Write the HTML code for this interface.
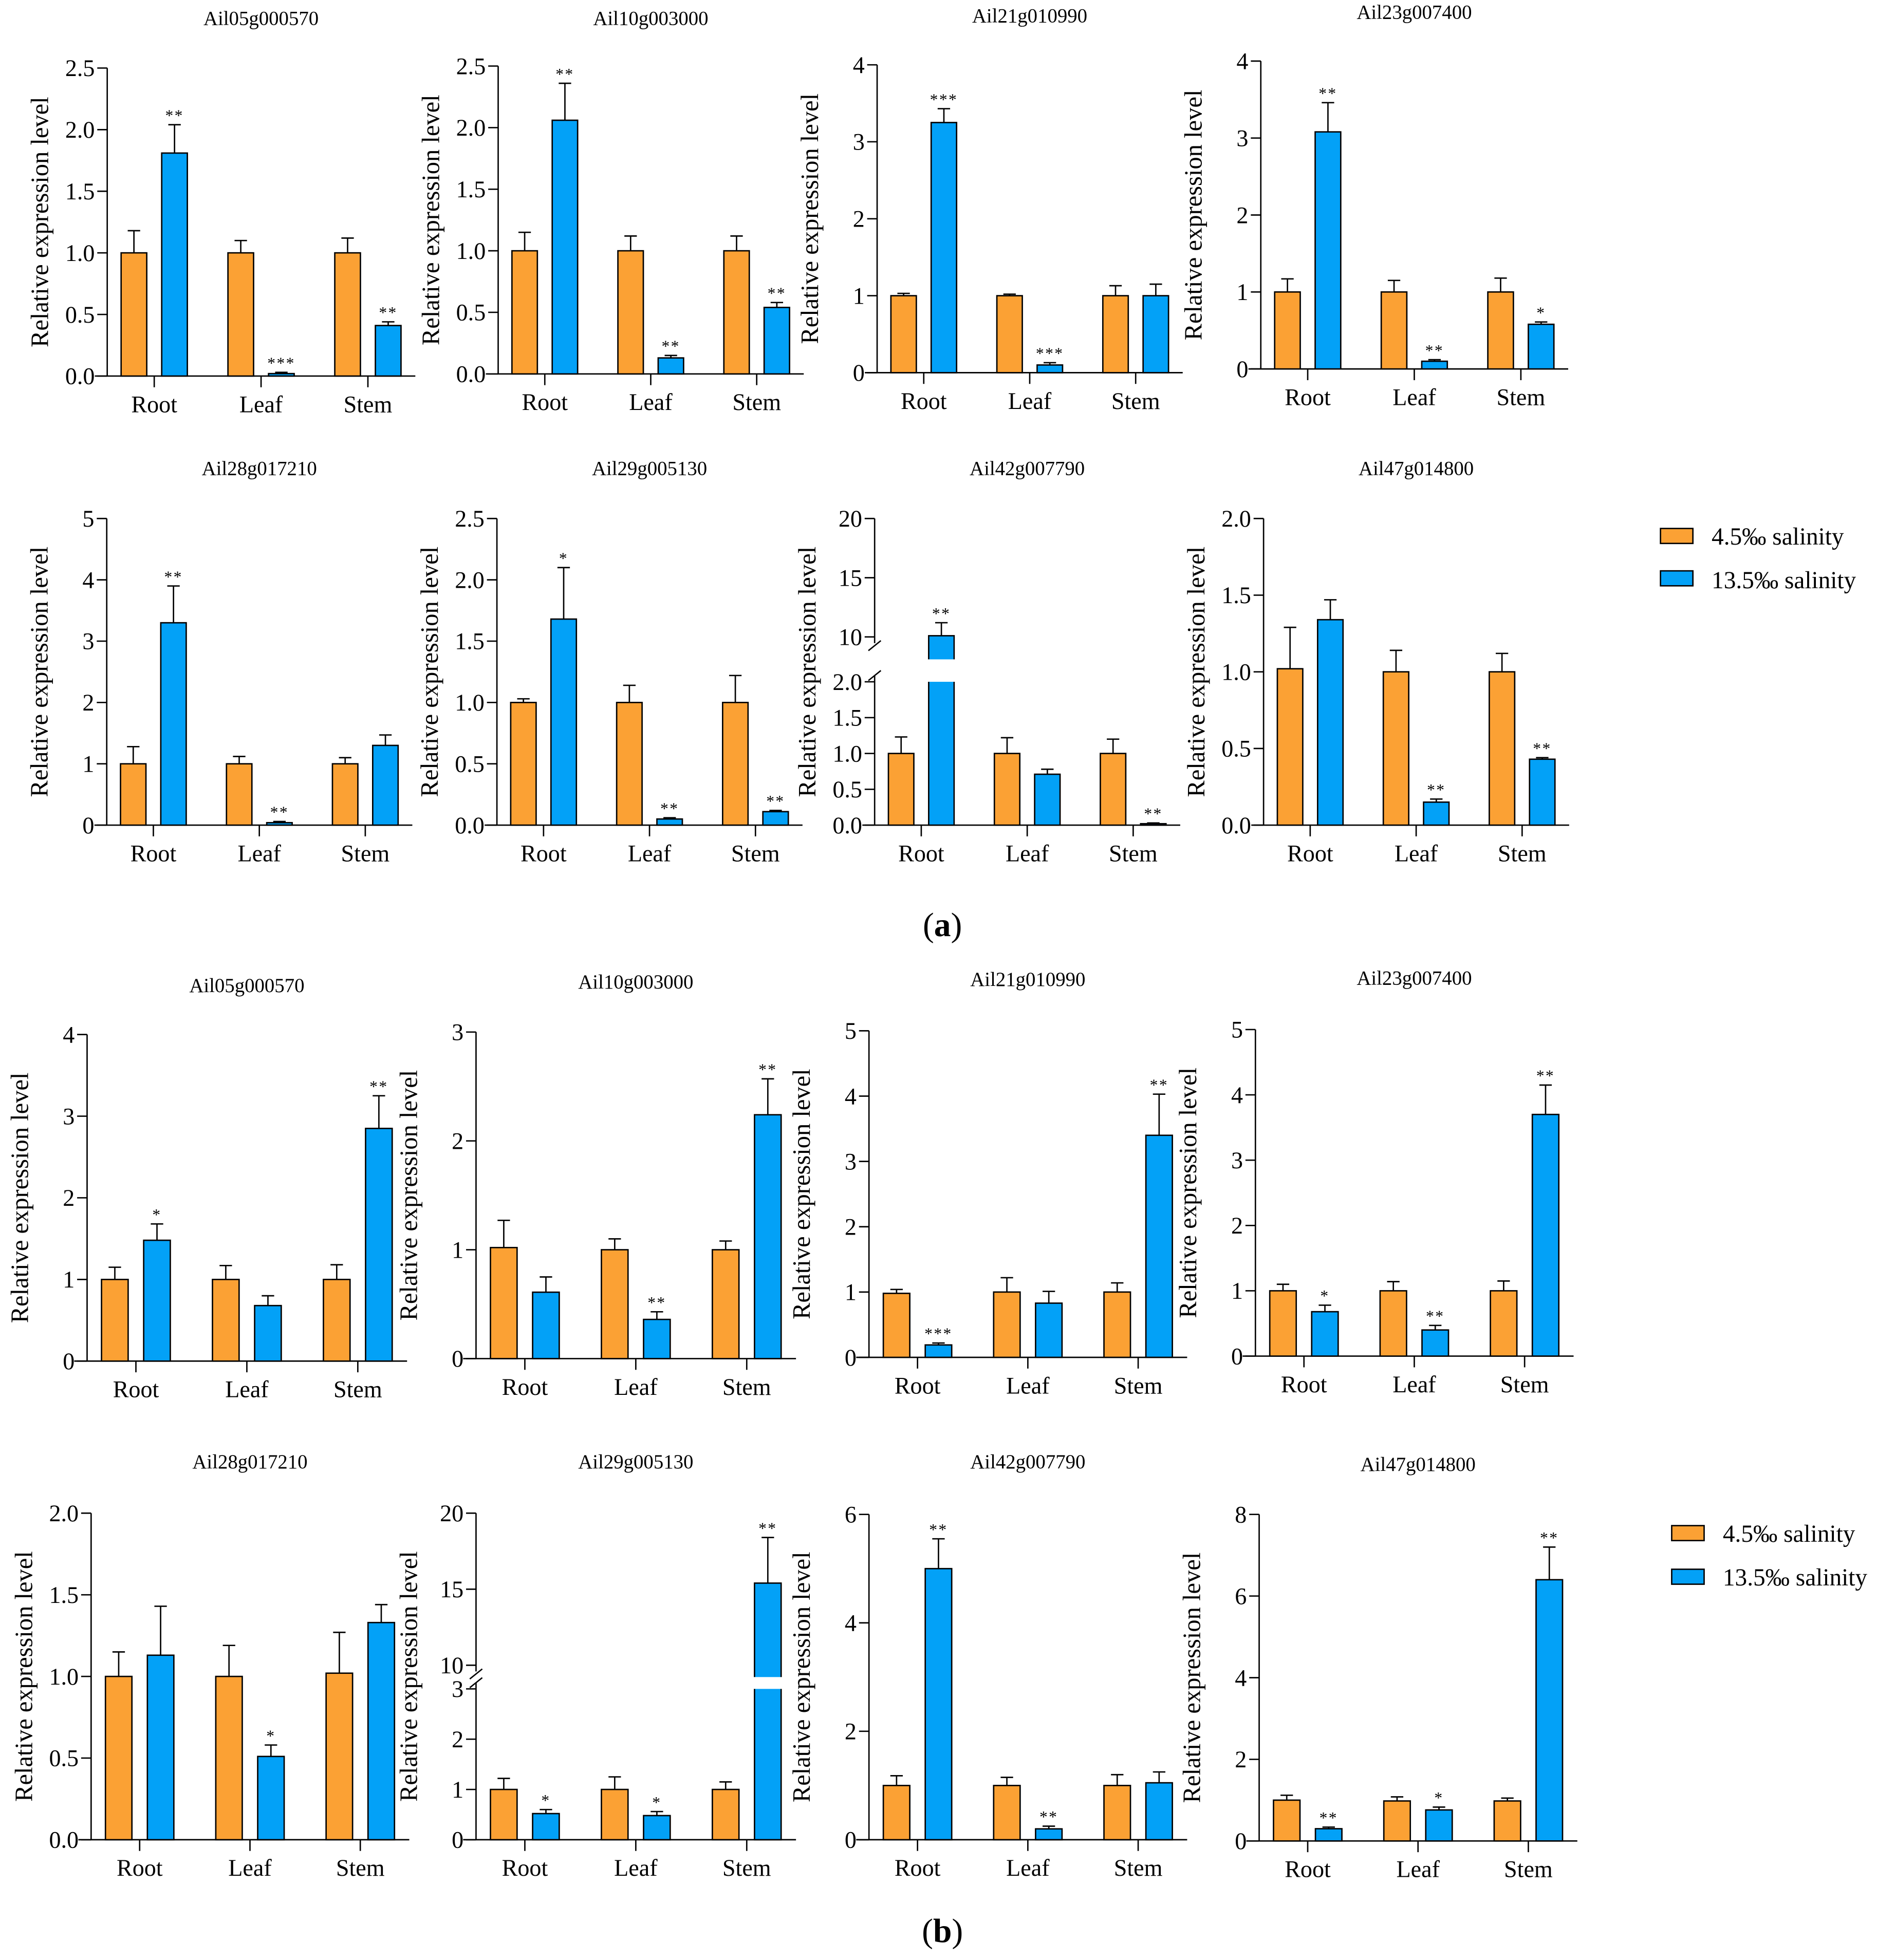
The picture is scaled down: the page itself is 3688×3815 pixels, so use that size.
<!DOCTYPE html>
<html><head><meta charset="utf-8"><style>
html,body{margin:0;padding:0;background:#fff}
svg{display:block}
text{font-family:"Liberation Serif",serif;fill:#000}
</style></head><body>
<svg id="fig" xmlns="http://www.w3.org/2000/svg" width="3688" height="3815" viewBox="0 0 1520.1 1572.5">
<rect x="0" y="0" width="1520.1" height="1572.5" fill="#fff"/>
<g>
<rect x="1332" y="424" width="26" height="12" fill="#FBA134" stroke="#000" stroke-width="1.1"/>
<text x="1373" y="437" font-size="19.5">4.5‰ salinity</text>
<rect x="1332" y="458" width="26" height="12" fill="#03A1F7" stroke="#000" stroke-width="1.1"/>
<text x="1373" y="472" font-size="19.5">13.5‰ salinity</text>
</g>
<g>
<rect x="1341" y="1224" width="26" height="12" fill="#FBA134" stroke="#000" stroke-width="1.1"/>
<text x="1382" y="1237" font-size="19.5">4.5‰ salinity</text>
<rect x="1341" y="1259" width="26" height="12" fill="#03A1F7" stroke="#000" stroke-width="1.1"/>
<text x="1382" y="1272" font-size="19.5">13.5‰ salinity</text>
</g>
<text x="756" y="751" font-size="27" text-anchor="middle">(<tspan font-weight="bold">a</tspan>)</text>
<text x="756" y="1558" font-size="27" text-anchor="middle">(<tspan font-weight="bold">b</tspan>)</text>
</svg>
<script>
// ---- data ----
const categories = ["Root", "Leaf", "Stem"];
const titles = ["Ail05g000570","Ail10g003000","Ail21g010990","Ail23g007400","Ail28g017210","Ail29g005130","Ail42g007790","Ail47g014800",
"Ail05g000570","Ail10g003000","Ail21g010990","Ail23g007400","Ail28g017210","Ail29g005130","Ail42g007790","Ail47g014800"];
const lowMeans = [[1.0,1.0,1.0],[1.0,1.0,1.0],[1.0,1.0,1.0],[1.0,1.0,1.0],[1.0,1.0,1.0],[1.0,1.0,1.0],[1.0,1.0,1.0],[1.02,1.0,1.0],
[1.0,1.0,1.0],[1.02,1.0,1.0],[0.98,1.0,1.0],[1.0,1.0,1.0],[1.0,1.0,1.02],[1.0,1.0,1.0],[1.0,1.0,1.0],[1.0,0.98,0.98]];
const lowErrs = [[0.18,0.1,0.12],[0.15,0.12,0.12],[0.03,0.02,0.13],[0.17,0.15,0.18],[0.28,0.12,0.1],[0.03,0.14,0.22],[0.23,0.22,0.2],[0.27,0.14,0.12],
[0.15,0.17,0.18],[0.25,0.1,0.08],[0.06,0.22,0.14],[0.1,0.14,0.15],[0.15,0.19,0.25],[0.22,0.25,0.15],[0.18,0.15,0.2],[0.12,0.1,0.07]];
const highMeans = [[1.81,0.02,0.41],[2.06,0.13,0.54],[3.25,0.1,1.0],[3.08,0.1,0.58],[3.3,0.04,1.3],[1.68,0.05,0.11],[10.1,0.71,0.02],[1.34,0.15,0.43],
[1.48,0.68,2.85],[0.61,0.36,2.24],[0.19,0.83,3.4],[0.68,0.4,3.7],[1.13,0.51,1.33],[0.52,0.48,15.4],[5.0,0.2,1.05],[0.3,0.76,6.4]];
const highErrs = [[0.23,0.01,0.03],[0.3,0.02,0.04],[0.18,0.03,0.15],[0.38,0.02,0.03],[0.6,0.02,0.17],[0.42,0.01,0.01],[1.1,0.07,0.01],[0.13,0.02,0.01],
[0.2,0.12,0.4],[0.14,0.07,0.33],[0.03,0.18,0.63],[0.1,0.07,0.45],[0.3,0.07,0.11],[0.08,0.08,3.0],[0.55,0.05,0.2],[0.04,0.07,0.8]];
const sigLabels = [["**","***","**"],["**","**","**"],["***","***",""],["**","**","*"],["**","**",""],["*","**","**"],["**","","**"],["","**","**"],
["*","","**"],["","**","**"],["***","","**"],["*","**","**"],["","*",""],["*","*","**"],["**","**",""],["**","*","**"]];
const yTickValues = [[0,0.5,1,1.5,2,2.5],[0,0.5,1,1.5,2,2.5],[0,1,2,3,4],[0,1,2,3,4],[0,1,2,3,4,5],[0,0.5,1,1.5,2,2.5],[0,0.5,1,1.5,2,10,15,20],[0,0.5,1,1.5,2],
[0,1,2,3,4],[0,1,2,3],[0,1,2,3,4,5],[0,1,2,3,4,5],[0,0.5,1,1.5,2],[0,1,2,3,10,15,20],[0,2,4,6],[0,2,4,6,8]];
const yTickDecimals = [1,1,0,0,0,1,1,1,0,0,0,0,1,0,0,0];
const yMax = [2.5,2.5,4,4,5,2.5,20,2.0,4,3,5,5,2.0,20,6,8];
const breakLow = [null,null,null,null,null,null,2,null,null,null,null,null,null,3,null,null];
const breakHigh = [null,null,null,null,null,null,10,null,null,null,null,null,null,10,null,null];

// ---- layout (positions only) ----
const layout = [
 {root:123.7,sp:85.7,yb:301.7,yt:54.6,ty:20},
 {root:437,sp:85,yb:300,yt:53,ty:20},
 {root:741,sp:85,yb:299,yt:52,ty:18},
 {root:1049,sp:85.5,yb:296,yt:49,ty:15},
 {root:123,sp:85,yb:662,yt:416,ty:381},
 {root:436,sp:85,yb:662,yt:416,ty:381},
 {root:739,sp:85,yb:662,yt:416,ty:381,brkLowY:547,brkHighY:511},
 {root:1051,sp:85,yb:662,yt:416,ty:381},
 {root:109,sp:89,yb:1092,yt:830,ty:796},
 {root:421,sp:89,yb:1090,yt:828,ty:793},
 {root:736,sp:88.5,yb:1089,yt:827,ty:791},
 {root:1046,sp:88.5,yb:1088,yt:826,ty:790},
 {root:112,sp:88.5,yb:1476,yt:1214,ty:1178},
 {root:421,sp:89,yb:1476,yt:1214,ty:1178,brkLowY:1355,brkHighY:1336},
 {root:736,sp:88.5,yb:1476,yt:1215,ty:1178},
 {root:1049,sp:88.5,yb:1477,yt:1215,ty:1180}
];
const NS="http://www.w3.org/2000/svg";
const svg=document.getElementById('fig');
function mk(tag,attrs,parent){const e=document.createElementNS(NS,tag);for(const k in attrs)e.setAttribute(k,attrs[k]);parent.appendChild(e);return e;}

for(let p=0;p<16;p++){
 const L=layout[p];
 const g=mk('g',{},svg);
 
 
 const bl=breakLow[p], bh=breakHigh[p];
 function yScale(v){
  if(bl===null) return L.yb-(v/yMax[p])*(L.yb-L.yt);
  if(v<=bl) return L.yb-(v/bl)*(L.yb-L.brkLowY);
  return L.brkHighY-((v-bh)/(yMax[p]-bh))*(L.brkHighY-L.yt);
 }
 const xCat=i=>L.root+i*L.sp;
 const ax=L.root-0.44*L.sp;
 const x0=L.root-0.556*L.sp, x1=xCat(2)+0.444*L.sp;
 const sw=1.1;
 const t=mk('text',{x:xCat(1),y:L.ty,'font-size':16,'text-anchor':'middle'},g);
 
 
 t.textContent=titles[p];
 if(bl===null){
  const yl=mk('line',{x1:ax,y1:L.yt,x2:ax,y2:L.yb,stroke:'#000','stroke-width':sw},g);
  
  
 } else {
  const yl1=mk('line',{x1:ax,y1:L.brkLowY-5,x2:ax,y2:L.yb,stroke:'#000','stroke-width':sw},g);
  
  
  const yl2=mk('line',{x1:ax,y1:L.yt,x2:ax,y2:L.brkHighY+5,stroke:'#000','stroke-width':sw},g);
  
  
  const m1=mk('line',{x1:ax-5,y1:L.brkLowY-1,x2:ax+5,y2:L.brkLowY-9,stroke:'#000','stroke-width':sw},g);
  
  
  const m2=mk('line',{x1:ax-5,y1:L.brkHighY+11,x2:ax+5,y2:L.brkHighY+3,stroke:'#000','stroke-width':sw},g);
  
  
 }
 const xl=mk('line',{x1:x0,y1:L.yb,x2:x1,y2:L.yb,stroke:'#000','stroke-width':sw},g);
 
 
 yTickValues[p].forEach(v=>{
  const y=yScale(v);
  const tk=mk('line',{x1:ax-8,y1:y,x2:ax,y2:y,stroke:'#000','stroke-width':sw},g);
  
  
  const tl=mk('text',{x:ax-10,y:y+6.5,'font-size':19,'text-anchor':'end'},g);
  
  
  tl.textContent=(v>=10)?String(v):v.toFixed(yTickDecimals[p]);
 });
 const cy=(L.yt+L.yb)/2;
 const yt=mk('text',{x:ax-52,y:cy,'font-size':20,'text-anchor':'middle',transform:`rotate(-90 ${ax-52} ${cy})`,'dominant-baseline':'middle'},g);
 
 
 yt.textContent='Relative expression level';
 categories.forEach((c,i)=>{
  const cx=xCat(i);
  const tk=mk('line',{x1:cx,y1:L.yb,x2:cx,y2:L.yb+9,stroke:'#000','stroke-width':sw},g);
  
  
  const cl=mk('text',{x:cx,y:L.yb+29,'font-size':19,'text-anchor':'middle'},g);
  
  
  cl.textContent=c;
  const bw=0.24*L.sp;
  const series=[[lowMeans[p][i],lowErrs[p][i],'#FBA134',-0.19,'bar-low-'],[highMeans[p][i],highErrs[p][i],'#03A1F7',0.19,'bar-high-']];
  series.forEach((s,k)=>{
   const bx=cx+s[3]*L.sp-bw/2;
   const yv=yScale(s[0]);
   const ye=yScale(s[0]+s[1]);
   const bc=bx+bw/2;
   const eb=mk('line',{x1:bc,y1:yv,x2:bc,y2:ye,stroke:'#000','stroke-width':sw},g);
   
   
   const ec=mk('line',{x1:bc-5,y1:ye,x2:bc+5,y2:ye,stroke:'#000','stroke-width':sw},g);
   
   
   const r=mk('rect',{x:bx,y:yv,width:bw,height:Math.max(L.yb-yv,0.5),fill:s[2],stroke:'#000','stroke-width':sw},g);
   
   
   if(bl!==null && s[0]>bl){
    const gy=Math.max(yv+1,L.brkHighY+ (L.brkLowY-L.brkHighY)*0.5);
    const gap=mk('rect',{x:bx-1,y:gy,width:bw+2,height:Math.max(L.brkLowY-gy,0),fill:'#fff'},g);
    
    
   }
   if(k===1 && sigLabels[p][i]){
    const st=mk('text',{x:bc,y:ye-3,'font-size':13,'text-anchor':'middle','letter-spacing':'1'},g);
    
    
    st.textContent=sigLabels[p][i];
   }
  });
 });
}
</script>
</body></html>
